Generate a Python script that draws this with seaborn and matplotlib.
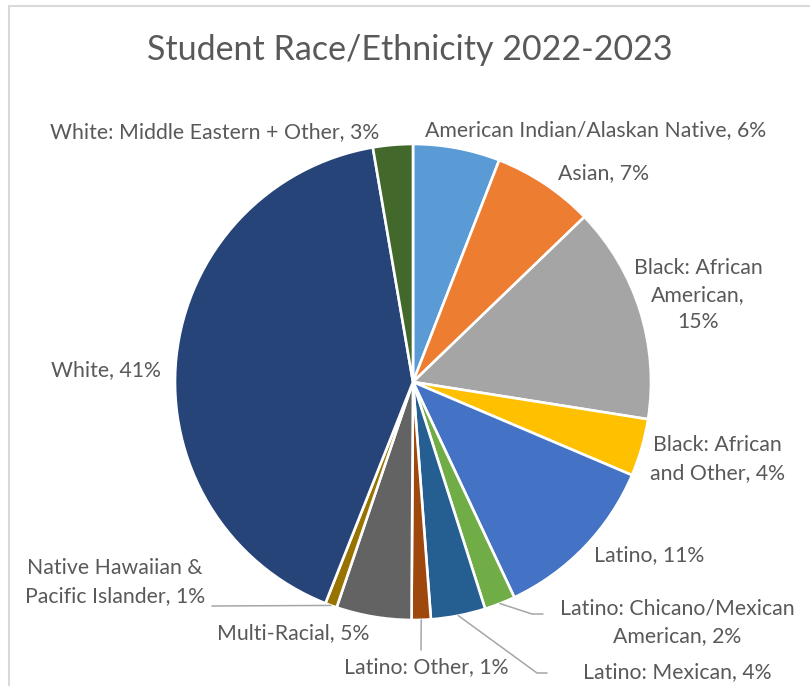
import numpy as np
import matplotlib.pyplot as plt
import matplotlib.patches as mpatches
import seaborn as sns

sns.set_theme(style="white")
plt.rcParams['font.family'] = ['Lato', 'DejaVu Sans']

# ============ DATA ============
categories = [
    'American Indian/Alaskan Native', 'Asian', 'Black: African American',
    'Black: African and Other', 'Latino', 'Latino: Chicano/Mexican American',
    'Latino: Mexican', 'Latino: Other', 'Multi-Racial',
    'Native Hawaiian & Pacific Islander', 'White', 'White: Middle Eastern + Other',
]
shares = [5.9, 6.9, 14.7, 3.9, 11.6, 2.1, 3.7, 1.3, 5.1, 0.8, 41.3, 2.7]
pct_text = ['6%', '7%', '15%', '4%', '11%', '2%', '4%', '1%', '5%', '1%', '41%', '3%']
# label text as wrapped in the chart
label_names = [
    'American Indian/Alaskan Native', 'Asian', 'Black: African\nAmerican,\n',
    'Black: African\nand Other', 'Latino', 'Latino: Chicano/Mexican\nAmerican',
    'Latino: Mexican', 'Latino: Other', 'Multi-Racial',
    'Native Hawaiian &\nPacific Islander', 'White', 'White: Middle Eastern + Other',
]
colors = ['#5B9BD5', '#ED7D31', '#A5A5A5', '#FFC000', '#4472C4', '#70AD47',
          '#255E91', '#9E480E', '#636363', '#997300', '#264478', '#43682B']

# ============ LAYOUT (pixels) ============
W, H = 810, 686
CX, CY, R = 413, 382, 238
HALF = 300
TXT = '#595959'
LINE = '#A6A6A6'

def px(x, y):
    return (x - CX) / R, (CY - y) / R

# label centres in pixels
label_pos = [(596, 130), (604, 173), (698, 295), (717, 459), (649, 555),
             (677, 622), (677, 672), (426, 667), (293, 633), (115, 582),
             (106, 370), (215, 132)]
# leader line elbows
leaders = {
    5: [(532, 614), (543, 614)],
    6: [(537, 673), (547, 673)],
    7: [(421, 650)],
    9: [(212, 606)],
}

fig = plt.figure(figsize=(W / 100, H / 100), dpi=100)
ax = fig.add_axes([(CX - HALF) / W, (H - CY - HALF) / H, 2 * HALF / W, 2 * HALF / H])
wedges, _ = ax.pie(shares, colors=colors, startangle=90, counterclock=False,
                   radius=1, wedgeprops=dict(edgecolor='white', linewidth=1.9))
lim = HALF / R
ax.set_xlim(-lim, lim)
ax.set_ylim(-lim, lim)
ax.axis('off')

for i, (name, pct) in enumerate(zip(label_names, pct_text)):
    if name.endswith('\n'):
        txt = name + pct
    else:
        txt = f'{name}, {pct}'
    x, y = px(*label_pos[i])
    ax.text(x, y, txt, ha='center', va='center', ma='center', fontsize=15.3,
            color=TXT, linespacing=1.45, clip_on=False)
    if i in leaders:
        w = wedges[i]
        mid = np.deg2rad((w.theta1 + w.theta2) / 2)
        pts = [(np.cos(mid), np.sin(mid))] + [px(*p) for p in leaders[i]]
        xs, ys = zip(*pts)
        ax.plot(xs, ys, color=LINE, lw=1.1, clip_on=False)

fig.text(410 / W, 1 - 50 / H, 'Student Race/Ethnicity 2022-2023', ha='center',
         va='center', fontsize=24.5, color=TXT)

# chart area border (cropped at right and bottom)
fig.patches.append(mpatches.Rectangle((9 / W, -0.1), 1.2, 1.1 - 6 / H, fill=False,
                                      edgecolor='#D9D9D9', lw=1.5,
                                      transform=fig.transFigure, figure=fig))

fig.savefig('out.png', dpi=100, facecolor='white')
